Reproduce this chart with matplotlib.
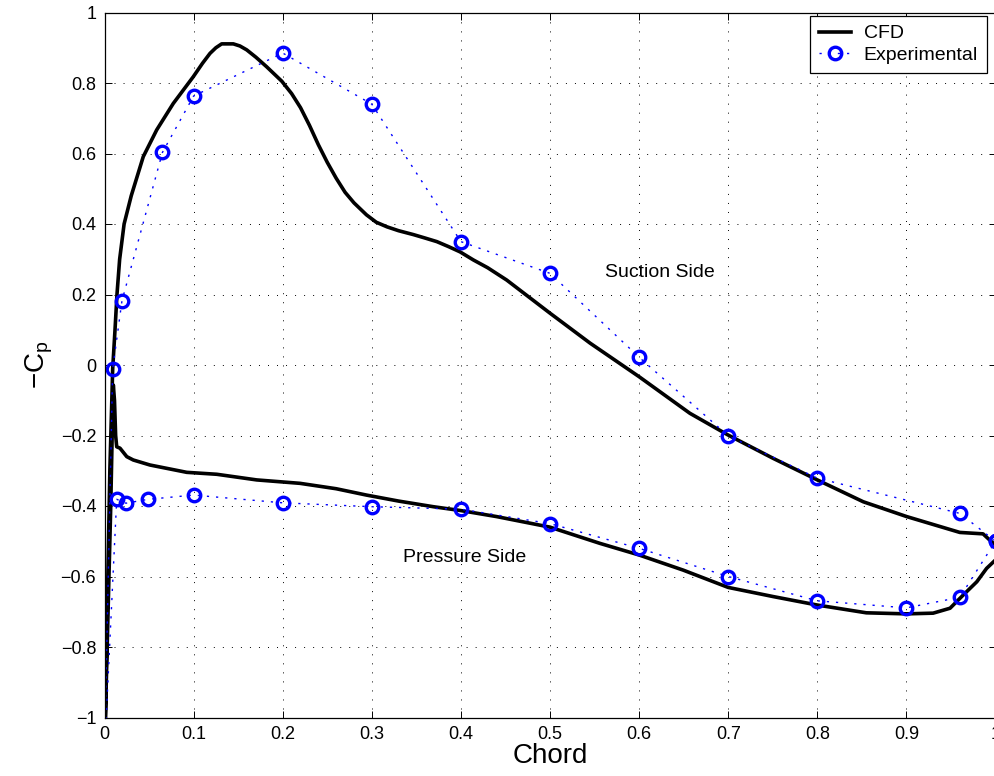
import matplotlib
matplotlib.use("Agg")
import matplotlib.pyplot as plt

plt.rcParams['font.family'] = ['Liberation Sans', 'DejaVu Sans']
plt.rcParams['mathtext.fontset'] = 'custom'
plt.rcParams['mathtext.rm'] = 'Liberation Sans'
plt.rcParams['mathtext.it'] = 'Liberation Sans'
plt.rcParams['lines.scale_dashes'] = False

# CFD surface pressure, suction side from trailing edge to leading edge,
# then pressure side back to the trailing edge
cfd_x = [1.0, 0.9975, 0.986, 0.96, 0.9003, 0.8516, 0.8, 0.7506, 0.7001, 0.657,
         0.5999, 0.545, 0.5, 0.4514, 0.43, 0.414, 0.399, 0.386, 0.373, 0.36, 0.3466,
         0.33, 0.317, 0.305, 0.294, 0.28, 0.27, 0.26, 0.25, 0.24, 0.23,
         0.22, 0.21, 0.199, 0.182, 0.17, 0.1596, 0.152, 0.1446, 0.1315, 0.125,
         0.1184, 0.11, 0.0997, 0.0772, 0.0586, 0.0435, 0.030, 0.022, 0.017, 0.014,
         0.0118, 0.0092, 0.006, 0.003, 0.001, 0.0005,
         0.001, 0.004, 0.007, 0.009, 0.0099, 0.0112, 0.0125, 0.0137, 0.0174, 0.025,
         0.0323, 0.051, 0.0923, 0.126, 0.1708, 0.2194, 0.26, 0.294, 0.33, 0.369,
         0.40, 0.44, 0.5, 0.556, 0.6, 0.6496, 0.7, 0.7506, 0.8, 0.855,
         0.9, 0.93, 0.949, 0.964, 0.979, 0.99, 1.0, 1.0]
cfd_cp = [-0.506, -0.506, -0.479, -0.475, -0.430, -0.388, -0.326, -0.265, -0.199, -0.137,
          -0.033, 0.062, 0.147, 0.241, 0.276, 0.298, 0.321, 0.336, 0.350, 0.360, 0.370,
          0.381, 0.392, 0.405, 0.426, 0.460, 0.490, 0.530, 0.575, 0.625, 0.680,
          0.730, 0.770, 0.805, 0.846, 0.873, 0.894, 0.905, 0.911, 0.911, 0.900,
          0.884, 0.856, 0.818, 0.742, 0.667, 0.591, 0.480, 0.400, 0.300, 0.200,
          0.10, -0.01, -0.30, -0.70, -1.0, -1.05,
          -1.0, -0.70, -0.40, -0.15, -0.057, -0.10, -0.20, -0.232, -0.236, -0.26,
          -0.2695, -0.2837, -0.3045, -0.310, -0.326, -0.3357, -0.351, -0.369, -0.386, -0.402,
          -0.413, -0.430, -0.46, -0.506, -0.539, -0.582, -0.631, -0.657, -0.681, -0.703,
          -0.706, -0.704, -0.690, -0.652, -0.615, -0.577, -0.553, -0.506]

# Experimental taps, same ordering (stagnation point lies below the axis)
exp_x = [1.0, 0.96, 0.8, 0.7, 0.6, 0.5, 0.4, 0.3, 0.2, 0.1, 0.065, 0.0196, 0.0092,
         0.0, 0.0137, 0.0241, 0.0492, 0.1, 0.2, 0.3, 0.4, 0.5, 0.6, 0.7, 0.8, 0.9,
         0.96, 1.0]
exp_cp = [-0.50, -0.421, -0.321, -0.201, 0.022, 0.26, 0.35, 0.74, 0.885, 0.763, 0.603,
          0.182, -0.011, -1.1, -0.381, -0.392, -0.381, -0.369, -0.391, -0.402, -0.409,
          -0.45, -0.52, -0.60, -0.669, -0.689, -0.659, -0.50]

xticks = [0, 0.1, 0.2, 0.3, 0.4, 0.5, 0.6, 0.7, 0.8, 0.9, 1]
yticks = [-1, -0.8, -0.6, -0.4, -0.2, 0, 0.2, 0.4, 0.6, 0.8, 1]

fig = plt.figure(figsize=(9.94, 7.76), dpi=100)
ax = fig.add_axes([104.5 / 994, 58.5 / 776, 891 / 994, 705 / 776])

ax.plot(cfd_x, cfd_cp, color='k', lw=2.6, label='CFD', solid_joinstyle='round')
ax.plot(exp_x, exp_cp, color='b', lw=1.0, linestyle=(0, (1.6, 5.0)),
        marker='o', markersize=9, markerfacecolor='none', markeredgecolor='b',
        markeredgewidth=2.4, label='Experimental')

ax.text(0.623, 0.261, 'Suction Side', fontsize=14, ha='center', va='center')
ax.text(0.4046, -0.545, 'Pressure Side', fontsize=14, ha='center', va='center')

ax.set_xlim(0, 1)
ax.set_ylim(-1, 1)
ax.set_xticks(xticks)
ax.set_xticklabels([f'{v:g}'.replace('-', '\u2212') for v in xticks])
ax.set_yticks(yticks)
ax.set_yticklabels([f'{v:g}'.replace('-', '\u2212') for v in yticks])
ax.tick_params(direction='in', length=5, width=0.7, labelsize=13,
               top=True, right=True, pad=6)
ax.grid(True, color='k', lw=0.7, linestyle=(0, (0.7, 5.8)))
for s in ax.spines.values():
    s.set_linewidth(0.9)

ax.set_xlabel('Chord', fontsize=20, labelpad=0)
ax.set_ylabel(r'$\mathrm{-C_p}$', fontsize=20, labelpad=4)

leg = ax.legend(loc='upper right', bbox_to_anchor=(0.990, 0.995), fontsize=14,
                fancybox=False, framealpha=1, edgecolor='k', borderpad=0.45,
                handlelength=1.65, handletextpad=0.65, labelspacing=0.22,
                borderaxespad=0)
leg.get_frame().set_linewidth(0.9)

fig.savefig('out.png', dpi=100)
